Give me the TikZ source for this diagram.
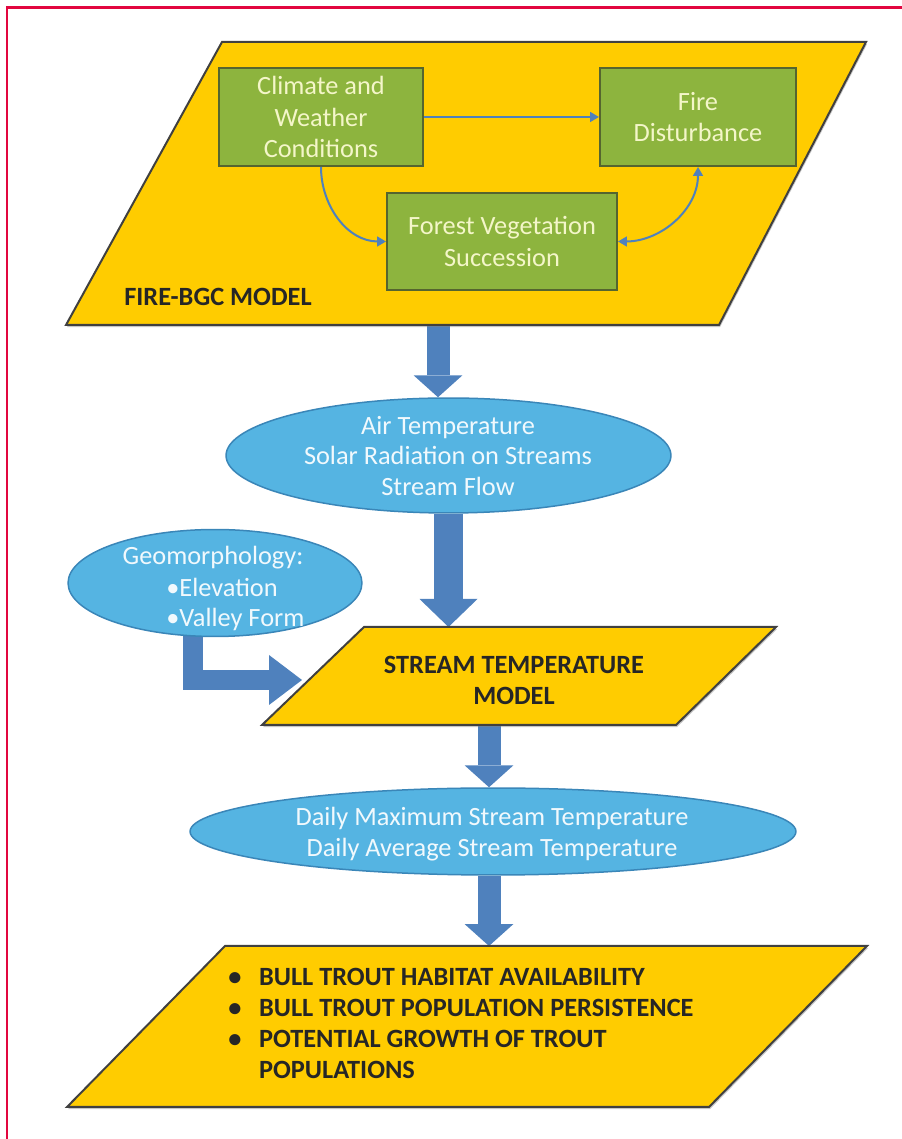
\documentclass[tikz,border=0pt]{standalone}
\usepackage{fontspec}
\setmainfont{Carlito}
\usepackage{tikz}
\usetikzlibrary{arrows.meta}
\usetikzlibrary{shapes.geometric}
\usetikzlibrary{shadows}
\usetikzlibrary{backgrounds}
\definecolor{gold}{HTML}{FFCC00}
\definecolor{leaf}{HTML}{8DB43E}
\definecolor{leafline}{HTML}{55652F}
\definecolor{sky}{HTML}{55B4E2}
\definecolor{skyline}{HTML}{3A86B8}
\definecolor{flow}{HTML}{4F81BD}
\definecolor{cream}{HTML}{F4F6C9}
\definecolor{redframe}{HTML}{E2063F}
\tikzstyle{model} = [draw=black!75, line width=0.04cm, fill=gold,
    drop shadow={shadow xshift=0.6pt, shadow yshift=-1.2pt, opacity=0.45}]
\tikzstyle{process} = [rectangle, draw=leafline, line width=0.04cm, fill=leaf,
    text=cream, align=center, font=\fontsize{15}{18}\selectfont]
\tikzstyle{data} = [ellipse, draw=skyline, line width=0.03cm, fill=sky, inner sep=0pt]
\tikzstyle{datatext} = [text=white!92!sky, align=center, inner sep=0pt,
    font=\fontsize{15}{17.6}\selectfont]
\tikzstyle{modeltext} = [text=black!85, inner sep=0pt,
    font=\bfseries\fontsize{15}{17.6}\selectfont]
\tikzset{>={Triangle[length=5pt,width=5.5pt]}}
\tikzstyle{link} = [draw=flow, line width=0.04cm]
\tikzstyle{bigarrow} = [draw=flow, line width=0.46cm,
    -{Triangle[length=0.44cm 0 0, width=0.98cm 0 0, line width=0pt 0 0]}]
\tikzstyle{widearrow} = [draw=flow, line width=0.58cm,
    -{Triangle[length=0.56cm 0 0, width=1.16cm 0 0, line width=0pt 0 0]}]
\tikzstyle{sidearrow} = [draw=flow, line width=0.4cm,
    -{Triangle[length=0.66cm 0 0, width=1.0cm 0 0, line width=0pt 0 0]}]

\begin{document}
\begin{tikzpicture}[x=0.02cm, y=0.02cm]
\useasboundingbox (0,0) rectangle (902,1139);
\draw[redframe, line width=0.06cm] (7,0) -- (7,1131) -- (902,1131);
%models
\draw[model] (66,814) -- (719,814) -- (866,1097) -- (222,1097) -- cycle;
\draw[model] (262,414) -- (676,414) -- (776,512) -- (364,512) -- cycle;
\draw[model] (67,32) -- (709,32) -- (867,193) -- (225,193) -- cycle;
\coordinate (bgc-out) at (438,814);
\coordinate (stm-top) at (447,512);
\coordinate (stm-left) at (302,459);
\coordinate (stm-out) at (489,414);
\coordinate (trout-in) at (489,193);
\node[modeltext, anchor=west] (bgc) at (124,842) {FIRE-BGC MODEL};
\node[modeltext, align=center] (stm) at (514,459) {STREAM TEMPERATURE\\MODEL};
\node[modeltext, anchor=base west] (trout) at (228,153) {%
  \begin{tabular}[t]{@{}l@{\hspace{10pt}}l@{}}
  \textbullet & BULL TROUT HABITAT AVAILABILITY\\
  \textbullet & BULL TROUT POPULATION PERSISTENCE\\
  \textbullet & POTENTIAL GROWTH OF TROUT\\
   & POPULATIONS
  \end{tabular}};
%fire-bgc boxes
\node[process, minimum width=4.08cm, minimum height=1.96cm] (clim) at (321,1022)
  {Climate and\\Weather\\Conditions};
\node[process, minimum width=3.92cm, minimum height=1.96cm] (fire) at (698,1022)
  {Fire\\Disturbance};
\node[process, minimum width=4.6cm, minimum height=1.94cm] (forest) at (502,897.5)
  {Forest Vegetation\\Succession};
\draw[link, ->] (clim) -- (fire);
\draw[link, ->] (clim.south) to[out=-90, in=180] (forest.west);
\draw[link, <->] (fire.south) to[out=-90, in=0] (forest.east);
%data
\node[data, minimum width=8.9cm, minimum height=2.3cm] (air) at (448.5,683.5) {};
\node[datatext] (air-text) at (448,683)
  {Air Temperature\\Solar Radiation on Streams\\Stream Flow};
\node[data, minimum width=5.88cm, minimum height=2.14cm] (geo) at (215,556) {};
\node[datatext] (geo-title) at (213,581) {Geomorphology:};
\node[datatext, align=left, anchor=west] (geo-list) at (166,534.5)
  {\textbullet Elevation\\\textbullet Valley Form};
\node[data, minimum width=12.12cm, minimum height=1.74cm] (daily) at (493,307.5) {};
\node[datatext] (daily-text) at (492,305)
  {Daily Maximum Stream Temperature\\Daily Average Stream Temperature};
%flow
\begin{scope}[on background layer]
  \draw[bigarrow] (bgc-out) -- (bgc-out |- air.north);
  \draw[widearrow] (air.south) -- (air.south |- stm-top);
  \draw[sidearrow] ([xshift=-0.44cm]geo.center) |- (stm-left);
  \draw[bigarrow] (stm-out) -- (stm-out |- daily.north);
  \draw[bigarrow] (stm-out |- daily.south) -- (trout-in);
\end{scope}
\end{tikzpicture}
\end{document}
